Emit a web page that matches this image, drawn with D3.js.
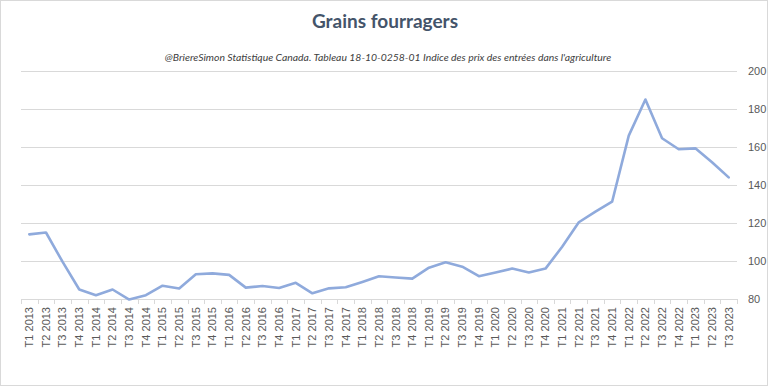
<!DOCTYPE html>
<html>
<head>
<meta charset="utf-8">
<script src="https://cdn.jsdelivr.net/npm/d3@7"></script>
<style>
  body { margin: 0; background: #fff; }
  svg { display: block; }
</style>
</head>
<body>
<div id="chart"></div>
<script>
const width = 768;
const height = 386;

// DONNÉES
const quarters = [
  "T1 2013", "T2 2013", "T3 2013", "T4 2013",
  "T1 2014", "T2 2014", "T3 2014", "T4 2014",
  "T1 2015", "T2 2015", "T3 2015", "T4 2015",
  "T1 2016", "T2 2016", "T3 2016", "T4 2016",
  "T1 2017", "T2 2017", "T3 2017", "T4 2017",
  "T1 2018", "T2 2018", "T3 2018", "T4 2018",
  "T1 2019", "T2 2019", "T3 2019", "T4 2019",
  "T1 2020", "T2 2020", "T3 2020", "T4 2020",
  "T1 2021", "T2 2021", "T3 2021", "T4 2021",
  "T1 2022", "T2 2022", "T3 2022", "T4 2022",
  "T1 2023", "T2 2023", "T3 2023"
];
const indexValues = [
  114, 115, 99.5, 85,
  82, 85, 79.7, 82,
  87, 85.5, 93, 93.5,
  92.7, 86, 86.8, 85.8,
  88.5, 83, 85.6, 86.2,
  89, 92, 91.3, 90.7,
  96.5, 99.3, 97, 92,
  94, 96, 94, 96,
  107.5, 120.4, 126, 131.2,
  166, 185, 164.6, 158.8,
  159.3, 152, 144
];
const yTicks = [80, 100, 120, 140, 160, 180, 200];

const chartTitle = "Grains fourragers";
const chartSubtitle = "@BriereSimon Statistique Canada. Tableau 18-10-0258-01  Indice des prix des entrées dans l'agriculture";

const svg = d3.select("#chart")
  .append("svg")
  .attr("width", width)
  .attr("height", height);

// CADRE
svg.append("rect")
  .attr("x", 0.5).attr("y", 0.5)
  .attr("width", width - 1).attr("height", height - 1)
  .attr("fill", "#fff")
  .attr("stroke", "#d9d9d9");

const plot = { left: 21, right: 737, top: 71, bottom: 299 };

const x = d3.scaleBand()
  .domain(quarters)
  .range([plot.left, plot.right])
  .padding(0);

const y = d3.scaleLinear()
  .domain([80, 200])
  .range([plot.bottom, plot.top]);

// GRILLE
svg.append("g")
  .selectAll("line")
  .data(yTicks.filter(t => t > 80))
  .enter()
  .append("line")
  .attr("x1", plot.left)
  .attr("x2", plot.right)
  .attr("y1", d => Math.round(y(d)) + 0.5)
  .attr("y2", d => Math.round(y(d)) + 0.5)
  .attr("stroke", "#d9d9d9")
  .attr("stroke-width", 1);

// AXE Y (droite)
svg.append("g")
  .selectAll("text")
  .data(yTicks)
  .enter()
  .append("text")
  .attr("x", 748)
  .attr("y", d => y(d))
  .attr("dy", "0.35em")
  .attr("font-family", "'Liberation Sans', Arial, sans-serif")
  .attr("font-size", "11px")
  .attr("fill", "#595959")
  .text(d => d);

// AXE X
const xAxis = svg.append("g");

xAxis.append("line")
  .attr("x1", plot.left)
  .attr("x2", plot.right)
  .attr("y1", plot.bottom + 0.5)
  .attr("y2", plot.bottom + 0.5)
  .attr("stroke", "#d9d9d9");

const tickPos = quarters.map(q => x(q)).concat([plot.right]);

xAxis.selectAll("line.tick")
  .data(tickPos)
  .enter()
  .append("line")
  .attr("class", "tick")
  .attr("x1", d => Math.round(d) + 0.5)
  .attr("x2", d => Math.round(d) + 0.5)
  .attr("y1", plot.bottom)
  .attr("y2", plot.bottom + 5)
  .attr("stroke", "#d9d9d9");

xAxis.selectAll("text")
  .data(quarters)
  .enter()
  .append("text")
  .attr("transform", d => `translate(${x(d) + x.bandwidth() / 2},${plot.bottom + 8}) rotate(-90)`)
  .attr("text-anchor", "end")
  .attr("dy", "0.35em")
  .attr("font-family", "'Liberation Sans', Arial, sans-serif")
  .attr("font-size", "11px")
  .attr("fill", "#595959")
  .text(d => d);

// LIGNE
const line = d3.line()
  .x((d, i) => x(quarters[i]) + x.bandwidth() / 2)
  .y(d => y(d));

svg.append("path")
  .datum(indexValues)
  .attr("d", line)
  .attr("fill", "none")
  .attr("stroke", "#8faadc")
  .attr("stroke-width", 2.6)
  .attr("stroke-linejoin", "round")
  .attr("stroke-linecap", "round");

// TITRES
svg.append("text")
  .attr("x", 385)
  .attr("y", 28)
  .attr("text-anchor", "middle")
  .attr("font-family", "Lato, 'Open Sans', sans-serif")
  .attr("font-weight", "bold")
  .attr("font-size", "19px")
  .attr("fill", "#44546a")
  .text(chartTitle);

svg.append("text")
  .attr("x", 388)
  .attr("y", 61)
  .attr("text-anchor", "middle")
  .attr("font-family", "Lato, 'Open Sans', sans-serif")
  .attr("font-style", "italic")
  .attr("font-size", "10.4px")
  .attr("fill", "#404040")
  .text(chartSubtitle);
</script>
</body>
</html>
